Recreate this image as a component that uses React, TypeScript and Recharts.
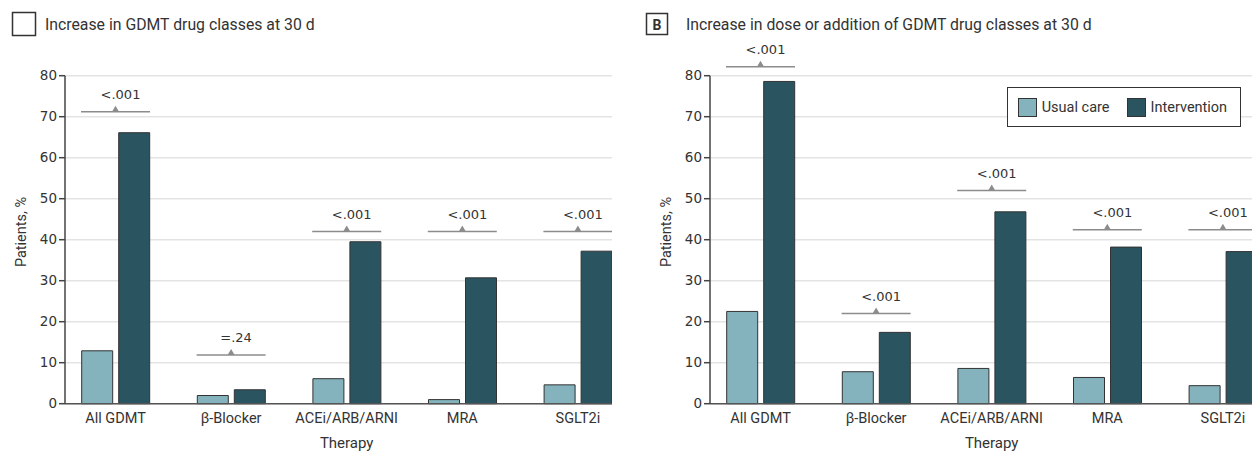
import React from "react";
import {
  ComposedChart,
  Bar,
  XAxis,
  YAxis,
  CartesianGrid,
  ReferenceDot,
  Legend,
  Label,
} from "recharts";

const categories = ["All GDMT", "β-Blocker", "ACEi/ARB/ARNI", "MRA", "SGLT2i"];
const yTicks = [0, 10, 20, 30, 40, 50, 60, 70, 80];

// panel A: increase in GDMT drug classes
const usualA = [12.9, 2.0, 6.1, 1.0, 4.6];
const interventionA = [66.1, 3.4, 39.5, 30.7, 37.2];
const pTextA = ["<.001", "=.24", "<.001", "<.001", "<.001"];
const pLevelA = [71.2, 11.9, 42.0, 42.0, 42.0];

// panel B: increase in dose or addition
const usualB = [22.5, 7.8, 8.6, 6.4, 4.4];
const interventionB = [78.6, 17.4, 46.8, 38.2, 37.1];
const pTextB = ["<.001", "<.001", "<.001", "<.001", "<.001"];
const pLevelB = [82.2, 22.0, 52.0, 42.4, 42.4];

const LIGHT = "#84b2bd";
const DARK = "#2b5461";
const SANS = "Roboto, 'Liberation Sans', sans-serif";
const DIGITS = "'DejaVu Sans', sans-serif";
const PAD_LEFT = -7.3;

function Bracket(props: any) {
  const { cx, cy, text } = props;
  if (cx == null || cy == null) return null;
  return (
    <g>
      <line x1={cx - 34.5} x2={cx + 34.5} y1={cy} y2={cy} stroke="#8c8c8c" strokeWidth={1.5} />
      <path d={`M${cx - 3.5},${cy} L${cx + 3.5},${cy} L${cx},${cy - 6} Z`} fill="#8c8c8c" />
      <text x={cx + 5} y={cy - 13} textAnchor="middle" fontSize={13} fontFamily={DIGITS} fill="#333">
        {text}
      </text>
    </g>
  );
}

function LegendBox() {
  const swatch = (color: string, ml: number) => (
    <div
      style={{
        width: 19,
        height: 19,
        boxSizing: "border-box",
        background: color,
        border: "1px solid #333",
        marginLeft: ml,
        flex: "none",
      }}
    />
  );
  const label = (text: string) => (
    <span style={{ fontFamily: SANS, fontSize: 14.5, color: "#333", marginLeft: 5, whiteSpace: "nowrap" }}>
      {text}
    </span>
  );
  return (
    <div
      style={{
        border: "1.5px solid #333",
        background: "#fff",
        width: 234,
        height: 40,
        boxSizing: "border-box",
        display: "flex",
        alignItems: "center",
      }}
    >
      {swatch(LIGHT, 10)}
      {label("Usual care")}
      {swatch(DARK, 17)}
      {label("Intervention")}
    </div>
  );
}

interface PanelProps {
  usual: number[];
  intervention: number[];
  pText: string[];
  pLevel: number[];
  legend?: boolean;
}

function Panel({ usual, intervention, pText, pLevel, legend }: PanelProps) {
  const data = categories.map((name, i) => ({
    name,
    usual: usual[i],
    intervention: intervention[i],
  }));

  return (
    <ComposedChart
      width={640}
      height={455}
      data={data}
      margin={{ top: 75.7, right: 4.3, bottom: 6.3, left: 0 }}
      barSize={31}
      barGap={6}
    >
      <CartesianGrid vertical={false} stroke="#e3e3e3" strokeWidth={1.5} />
      <XAxis
        dataKey="name"
        padding={{ left: PAD_LEFT, right: 0 }}
        height={45}
        tickLine={false}
        tickSize={6}
        tickMargin={3}
        axisLine={{ stroke: "#555", strokeWidth: 1.5 }}
        tick={{ fontSize: 14.5, fill: "#333", fontFamily: SANS }}
        interval={0}
      >
        <Label
          content={(p: any) => {
            const vb = p.viewBox;
            const x = vb.x + PAD_LEFT + (vb.width - PAD_LEFT) / 2;
            return (
              <text x={x} y={vb.y + 44.5} textAnchor="middle" fontSize={15} fontFamily={SANS} fill="#333">
                Therapy
              </text>
            );
          }}
        />
      </XAxis>
      <YAxis
        width={65}
        domain={[0, 80]}
        ticks={yTicks}
        interval={0}
        tickSize={6}
        tickMargin={2}
        tickLine={{ stroke: "#444", strokeWidth: 1.5 }}
        axisLine={{ stroke: "#444", strokeWidth: 1.5 }}
        tick={{ fontSize: 13.5, fill: "#333", fontFamily: DIGITS }}
      >
        <Label
          content={(p: any) => {
            const vb = p.viewBox;
            const x = vb.x + 25.5;
            const y = vb.y + vb.height / 2 - 7.7;
            return (
              <text
                x={x}
                y={y}
                transform={`rotate(-90, ${x}, ${y})`}
                textAnchor="middle"
                fontSize={14.5}
                fontFamily={SANS}
                fill="#333"
              >
                Patients, %
              </text>
            );
          }}
        />
      </YAxis>
      {legend && (
        <Legend
          layout="horizontal"
          verticalAlign="middle"
          align="center"
          wrapperStyle={{ left: 361.7, top: 87.3, width: 234, height: 40 }}
          content={() => <LegendBox />}
        />
      )}
      <Bar dataKey="usual" name="Usual care" fill={LIGHT} stroke="#333" strokeWidth={1} isAnimationActive={false} />
      <Bar dataKey="intervention" name="Intervention" fill={DARK} stroke="#333" strokeWidth={1} isAnimationActive={false} />
      {categories.map((c, i) => (
        <ReferenceDot
          key={c}
          x={c}
          y={pLevel[i]}
          r={0}
          ifOverflow="visible"
          shape={(sp: any) => <Bracket {...sp} text={pText[i]} />}
        />
      ))}
    </ComposedChart>
  );
}

export default function App() {
  return (
    <div
      style={{
        position: "fixed",
        left: 0,
        top: 0,
        width: 1252,
        height: 455,
        overflow: "hidden",
        background: "#fff",
      }}
    >
      <div style={{ position: "absolute", left: 0, top: 0, width: 612, height: 455, overflow: "hidden" }}>
        <Panel usual={usualA} intervention={interventionA} pText={pTextA} pLevel={pLevelA} />
      </div>
      <div style={{ position: "absolute", left: 645, top: 0, width: 607, height: 455, overflow: "hidden" }}>
        <Panel usual={usualB} intervention={interventionB} pText={pTextB} pLevel={pLevelB} legend />
      </div>
      <svg
        width={1252}
        height={60}
        style={{ position: "absolute", left: 0, top: 0, pointerEvents: "none" }}
      >
        <rect x={12.5} y={12.5} width={23} height={23} fill="none" stroke="#333" strokeWidth={1.5} />
        <text x={45} y={30} fontSize={15.8} fontFamily={SANS} fill="#333">
          Increase in GDMT drug classes at 30 d
        </text>
        <rect x={646.5} y={13.5} width={21} height={21} fill="none" stroke="#333" strokeWidth={1.5} />
        <text x={657} y={29.5} textAnchor="middle" fontSize={14} fontWeight="bold" fontFamily={SANS} fill="#333">
          B
        </text>
        <text x={686} y={30} fontSize={15.8} fontFamily={SANS} fill="#333">
          Increase in dose or addition of GDMT drug classes at 30 d
        </text>
      </svg>
    </div>
  );
}
